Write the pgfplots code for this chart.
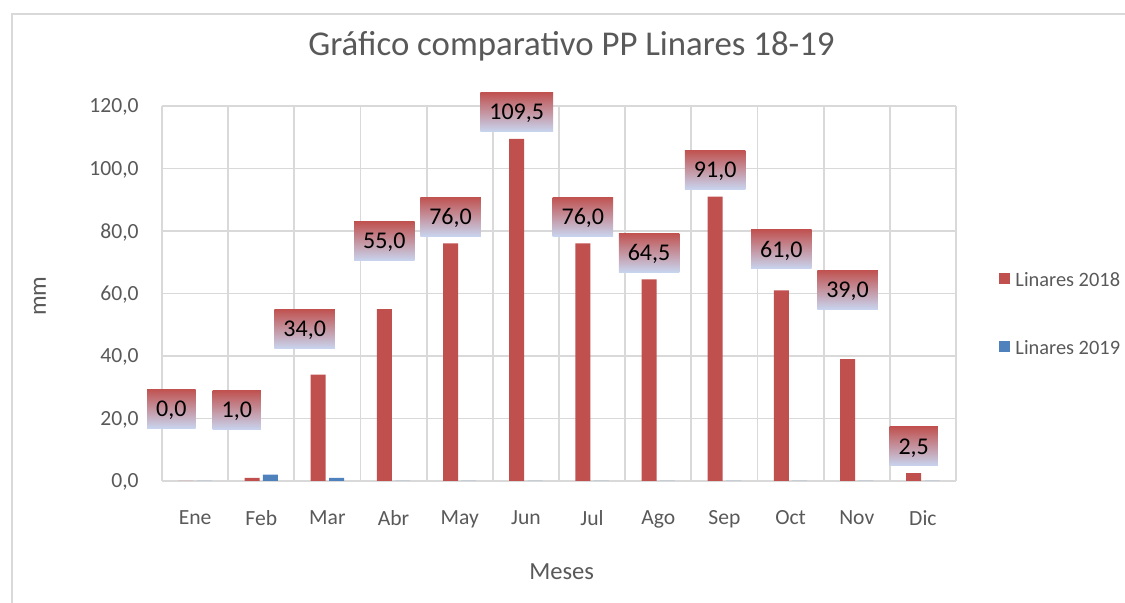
\documentclass[border=0pt]{standalone}
\usepackage{fontspec}
\setmainfont{Carlito}
\usepackage{pgfplots}
\usepackage{pgfplotstable}
\pgfplotsset{compat=1.18}
\definecolor{cred}{RGB}{192,80,77}
\definecolor{cblue}{RGB}{79,129,189}
\definecolor{cgrid}{RGB}{217,217,217}
\definecolor{ctxt}{RGB}{89,89,89}
\definecolor{gtop}{RGB}{192,82,80}
\definecolor{gmid}{RGB}{184,160,180}
\definecolor{gbot}{RGB}{200,212,238}
\pgfkeys{/pgf/number format/.cd, fixed, fixed zerofill, precision=1, use comma, assume math mode=true}
\pgfplotstableread{
x a dx dy b
0 0 -7.25 22.75 0
1 1.0 -7.65 20.5 2.0
2 34.0 -6.75 9.5 1.0
3 55.0 0 20.6 0
4 76.0 0 0 0
5 109.5 0 0 0
6 76.0 0 0 0
7 64.5 0 0 0
8 91.0 0 0 0
9 61.0 0 7.2 0
10 39.0 0 21.25 0
11 2.5 0 0 0
}\data
\begin{document}
\begin{tikzpicture}
\useasboundingbox (0,0) rectangle (562.5pt,301.5pt);
\draw[cgrid, line width=1pt] (6pt,-1pt) -- (6pt,294.5pt) -- (563pt,294.5pt);
\begin{axis}[
  at={(81pt,61pt)}, anchor=south west,
  scale only axis, width=397pt, height=187.5pt,
  xmin=-0.5, xmax=11.5, ymin=0, ymax=120,
  clip=false, ybar,
  axis x line*=bottom, axis y line*=left,
  x axis line style={cgrid, line width=1pt, -},
  y axis line style={draw=none},
  xtick={0,...,11},
  xticklabels={Ene,Feb,Mar,Abr,May,Jun,Jul,Ago,Sep,Oct,Nov,Dic},
  minor xtick={-0.5,0.5,...,11.5},
  xminorgrids, ymajorgrids,
  ytick={0,20,...,120},
  grid style={cgrid, line width=0.9pt},
  minor grid style={cgrid, line width=0.9pt},
  major tick length=0pt, minor tick length=0pt,
  tick label style={font=\fontsize{10.8}{13}\selectfont, text=ctxt},
  yticklabel style={anchor=east, inner sep=0pt, xshift=-11.5pt, text depth=0pt},
  xticklabel style={anchor=north, inner sep=0pt, yshift=-14.5pt},
  title={Gráfico comparativo PP Linares 18-19},
  title style={at={(axis description cs:0.5157,1.128)}, anchor=center, font=\fontsize{17.4}{20}\selectfont, text=ctxt, inner sep=0pt},
  xlabel={Meses},
  every axis x label/.style={at={(axis description cs:0.5034,-0.242)}, anchor=center, font=\fontsize{12.3}{14}\selectfont, text=ctxt, inner sep=0pt},
  ylabel={mm},
  every axis y label/.style={at={(axis description cs:-0.1537,0.493)}, rotate=90, anchor=center, font=\fontsize{12.3}{14}\selectfont, text=ctxt, inner sep=0pt},
  legend image code/.code={\fill[#1, draw=none] (0pt,-2.1pt) rectangle (5.5pt,3.4pt);},
  legend cell align=left,
  legend style={at={(axis description cs:1.0542,0.556)}, anchor=north west, draw=none, fill=none, inner sep=0pt,
    font=\fontsize{10.2}{12}\selectfont, text=ctxt, row sep=27.5pt,
    nodes={inner sep=0pt, text height=6.5pt, text depth=0pt},
    /tikz/every odd column/.append style={column sep=2.5pt}},
]
\addplot[fill=cred, draw=none, bar width=7.5pt, bar shift=-4.6pt,
  visualization depends on={\thisrow{dx} \as \ldx},
  visualization depends on={\thisrow{dy} \as \ldy},
  nodes near coords,
  every node near coord/.append style={anchor=south, text=black, font=\fontsize{12}{14}\selectfont,
    inner xsep=4.5pt, inner ysep=0pt, minimum height=19.5pt, text depth=0pt,
    top color=gtop, middle color=gmid, bottom color=gbot,
    xshift=\ldx*1pt, yshift=3.5pt+\ldy*1pt}
] table[x=x, y=a] {\data};
\addplot[fill=cblue, draw=none, bar width=7.5pt, bar shift=4.6pt] table[x=x, y=b] {\data};
\legend{Linares 2018, Linares 2019}
\end{axis}
\end{tikzpicture}
\end{document}
